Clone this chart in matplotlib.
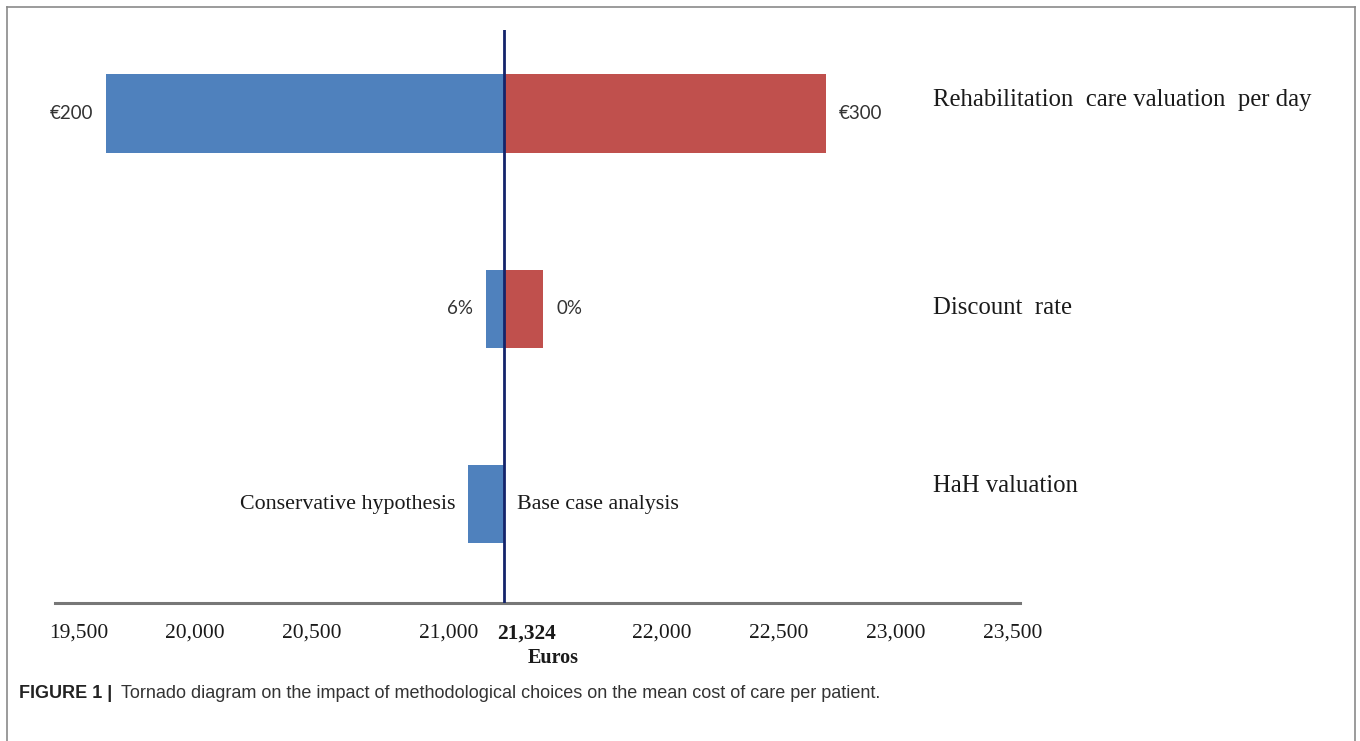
import matplotlib
matplotlib.use("Agg")
import matplotlib.pyplot as plt
from matplotlib.lines import Line2D

# data (euros)
parameters = ["Rehabilitation  care valuation  per day", "Discount  rate", "HaH valuation"]
low_values = [19620, 21245, 21170]
high_values = [22700, 21490, 21324]
low_labels = ["€200", "6%", "Conservative hypothesis"]
high_labels = ["€300", "0%", "Base case analysis"]
base_cost = 21324
tick_values = [19500, 20000, 20500, 21000, 21324, 22000, 22500, 23000, 23500]
tick_labels = ["19,500", "20,000", "20,500", "21,000", "21,324",
               "22,000", "22,500", "23,000", "23,500"]

BLUE = "#4F81BD"
RED = "#C0504D"
NAVY = "#14246b"
SERIF = "Liberation Serif"
SANS = "Lato"

W, H = 1360, 741
fig = plt.figure(figsize=(W / 100, H / 100), dpi=100)

# axes placed in pixel terms of the reference
ax_left, ax_right, ax_top, ax_bottom = 55, 1020, 30, 603
ax = fig.add_axes([ax_left / W, 1 - ax_bottom / H,
                   (ax_right - ax_left) / W, (ax_bottom - ax_top) / H])

ypos = list(range(len(parameters)))
bar_h = 0.4

for y, lo, hi in zip(ypos, low_values, high_values):
    if lo < base_cost:
        ax.barh(y, base_cost - lo, left=lo, height=bar_h, color=BLUE, zorder=2)
    if hi > base_cost:
        ax.barh(y, hi - base_cost, left=base_cost, height=bar_h, color=RED, zorder=2)

ax.axvline(base_cost, color=NAVY, lw=2.0, zorder=3)

# value labels next to the bars
sans_rows = [True, True, False]
for y, lo, hi, ll, hl, is_sans in zip(ypos, low_values, high_values,
                                      low_labels, high_labels, sans_rows):
    fam = SANS if is_sans else SERIF
    size = 13.5 if is_sans else 15.8
    col = "#333333" if is_sans else "#1a1a1a"
    ax.annotate(ll, xy=(min(lo, base_cost), y), xytext=(-9.5, 0),
                textcoords="offset points", ha="right", va="center",
                fontsize=size, family=fam, color=col)
    ax.annotate(hl, xy=(max(hi, base_cost), y), xytext=(9.5, 0),
                textcoords="offset points", ha="left", va="center",
                fontsize=size, family=fam, color=col)

# parameter names on the right
label_dy = [-13, -1, -18]
for y, name, dy in zip(ypos, parameters, label_dy):
    ax.annotate(name, xy=(0.9098, y), xycoords=ax.get_yaxis_transform(),
                xytext=(0, -dy * 0.72), textcoords="offset points",
                ha="left", va="center", fontsize=17.8, family=SERIF,
                color="#1a1a1a", annotation_clip=False)

ax.set_xlim(19400, 23533)
ax.set_ylim(2.505, -0.427)
ax.set_yticks([])
ax.set_xticks(tick_values)

# the labels around the base value sit a little right of their ticks in the original
nudge = {21000: 20, 21324: 22}
shown = [("" if v in nudge else t) for v, t in zip(tick_values, tick_labels)]
ax.set_xticklabels(shown, family=SERIF, fontsize=15.5, color="#1a1a1a")
ax.tick_params(axis="x", length=0, pad=15)
for v, t in zip(tick_values, tick_labels):
    if v in nudge:
        ax.annotate(t, xy=(v, 0), xycoords=ax.get_xaxis_transform(),
                    xytext=(nudge[v] * 0.72, -15), textcoords="offset points",
                    ha="center", va="top", family=SERIF, fontsize=15.5,
                    color="#1a1a1a", annotation_clip=False,
                    fontweight="bold" if v == base_cost else "normal")

for side in ["top", "left", "right"]:
    ax.spines[side].set_visible(False)
ax.spines["bottom"].set_color("#777777")
ax.spines["bottom"].set_linewidth(2.2)

ax.set_xlabel("Euros", family=SERIF, fontsize=14.5, fontweight="bold", color="#1a1a1a")
ax.xaxis.set_label_coords((553 - ax_left) / (ax_right - ax_left),
                          (ax_bottom - 658) / (ax_bottom - ax_top))
ax.xaxis.label.set_va("center")

# frame around the figure panel (open at the bottom)
fx = lambda px: px / W
fy = lambda py: 1 - py / H
frame_col = "#8a8a8a"
fig.add_artist(Line2D([fx(7), fx(7)], [fy(741), fy(7)], color=frame_col, lw=1.2))
fig.add_artist(Line2D([fx(7), fx(1355)], [fy(7), fy(7)], color=frame_col, lw=1.2))
fig.add_artist(Line2D([fx(1355), fx(1355)], [fy(7), fy(741)], color=frame_col, lw=1.2))

# caption
fig.text(fx(19), fy(694), "FIGURE 1 |", family="Liberation Sans", fontweight="bold",
         fontsize=13, color="#222222", va="center", ha="left")
fig.text(fx(121), fy(694),
         "Tornado diagram on the impact of methodological choices on the mean cost of care per patient.",
         family="Liberation Sans", fontsize=13, color="#333333", va="center", ha="left")

fig.savefig("out.png", dpi=100)
